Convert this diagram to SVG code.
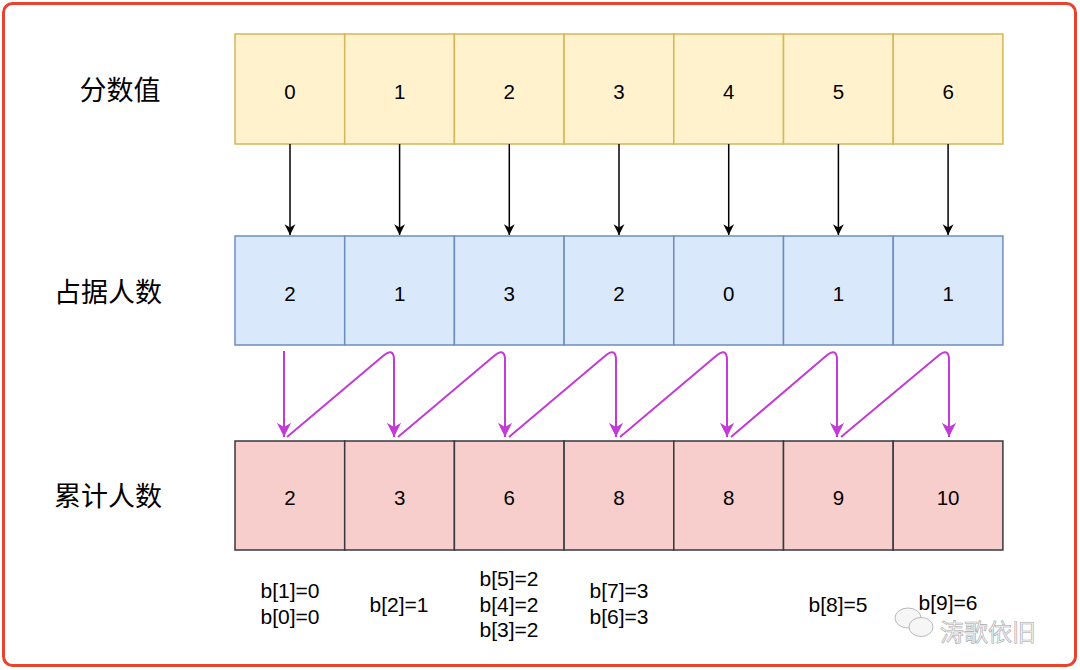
<svg xmlns="http://www.w3.org/2000/svg" width="1080" height="670" viewBox="0 0 1080 670">
<defs>
<style>
.num{font-family:"Liberation Sans",Arial,sans-serif;font-size:20.5px;fill:#000;text-anchor:middle;dominant-baseline:central}
.lbl{font-family:"Liberation Sans","Noto Sans CJK SC",sans-serif;font-size:27px;fill:#000;text-anchor:middle;dominant-baseline:central}
.bt{font-family:"Liberation Sans",Arial,sans-serif;font-size:21px;fill:#000;text-anchor:middle;dominant-baseline:central}
.y{fill:#fff2cc;stroke:#d6b656;stroke-width:1.5}
.b{fill:#dae8fc;stroke:#6c8ebf;stroke-width:1.5}
.r{fill:#f8cecc;stroke:#36393d;stroke-width:1.5}
.blk{fill:none;stroke:#000;stroke-width:1.5}
.pur{fill:none;stroke:#c23bd4;stroke-width:2}
</style>
<marker id="ah" markerWidth="13" markerHeight="13" refX="10" refY="5" orient="auto" markerUnits="userSpaceOnUse" viewBox="0 0 12 10">
<path d="M0,0 L10,5 L0,10 L3,5 Z" fill="#000"/>
</marker>
<marker id="ap" markerWidth="17" markerHeight="17" refX="10" refY="5" orient="auto" markerUnits="userSpaceOnUse" viewBox="0 0 12 10">
<path d="M0,0 L10,5 L0,10 L3,5 Z" fill="#c23bd4"/>
</marker>
</defs>
<rect x="3.5" y="3.5" width="1072" height="662" rx="9" fill="#fff" stroke="#e8432e" stroke-width="3"/>

<g id="labels">
<text class="lbl" x="120" y="91">分数值</text>
<text class="lbl" x="108" y="293">占据人数</text>
<text class="lbl" x="108" y="497">累计人数</text>
</g>

<g id="row-score">
<g id="s0"><rect class="y" x="235" y="34" width="109.7" height="110"/><text class="num" x="290" y="91">0</text></g>
<g id="s1"><rect class="y" x="344.7" y="34" width="109.7" height="110"/><text class="num" x="399.6" y="91">1</text></g>
<g id="s2"><rect class="y" x="454.4" y="34" width="109.7" height="110"/><text class="num" x="509.3" y="91">2</text></g>
<g id="s3"><rect class="y" x="564.1" y="34" width="109.7" height="110"/><text class="num" x="619" y="91">3</text></g>
<g id="s4"><rect class="y" x="673.8" y="34" width="109.7" height="110"/><text class="num" x="728.7" y="91">4</text></g>
<g id="s5"><rect class="y" x="783.5" y="34" width="109.7" height="110"/><text class="num" x="838.4" y="91">5</text></g>
<g id="s6"><rect class="y" x="893.2" y="34" width="109.7" height="110"/><text class="num" x="948.1" y="91">6</text></g>
</g>

<g id="row-count">
<g id="c0"><rect class="b" x="235" y="236" width="109.7" height="109"/><text class="num" x="290" y="293">2</text></g>
<g id="c1"><rect class="b" x="344.7" y="236" width="109.7" height="109"/><text class="num" x="399.6" y="293">1</text></g>
<g id="c2"><rect class="b" x="454.4" y="236" width="109.7" height="109"/><text class="num" x="509.3" y="293">3</text></g>
<g id="c3"><rect class="b" x="564.1" y="236" width="109.7" height="109"/><text class="num" x="619" y="293">2</text></g>
<g id="c4"><rect class="b" x="673.8" y="236" width="109.7" height="109"/><text class="num" x="728.7" y="293">0</text></g>
<g id="c5"><rect class="b" x="783.5" y="236" width="109.7" height="109"/><text class="num" x="838.4" y="293">1</text></g>
<g id="c6"><rect class="b" x="893.2" y="236" width="109.7" height="109"/><text class="num" x="948.1" y="293">1</text></g>
</g>

<g id="row-cum">
<g id="a0"><rect class="r" x="235" y="441" width="109.7" height="109"/><text class="num" x="290" y="497">2</text></g>
<g id="a1"><rect class="r" x="344.7" y="441" width="109.7" height="109"/><text class="num" x="399.6" y="497">3</text></g>
<g id="a2"><rect class="r" x="454.4" y="441" width="109.7" height="109"/><text class="num" x="509.3" y="497">6</text></g>
<g id="a3"><rect class="r" x="564.1" y="441" width="109.7" height="109"/><text class="num" x="619" y="497">8</text></g>
<g id="a4"><rect class="r" x="673.8" y="441" width="109.7" height="109"/><text class="num" x="728.7" y="497">8</text></g>
<g id="a5"><rect class="r" x="783.5" y="441" width="109.7" height="109"/><text class="num" x="838.4" y="497">9</text></g>
<g id="a6"><rect class="r" x="893.2" y="441" width="109.7" height="109"/><text class="num" x="948.1" y="497">10</text></g>
</g>

<g id="connectors">
<path class="blk" marker-end="url(#ah)" d="M290,144 V235"/>
<path class="blk" marker-end="url(#ah)" d="M399.6,144 V235"/>
<path class="blk" marker-end="url(#ah)" d="M509.3,144 V235"/>
<path class="blk" marker-end="url(#ah)" d="M619,144 V235"/>
<path class="blk" marker-end="url(#ah)" d="M728.7,144 V235"/>
<path class="blk" marker-end="url(#ah)" d="M838.4,144 V235"/>
<path class="blk" marker-end="url(#ah)" d="M948.1,144 V235"/>

<path class="pur" marker-end="url(#ap)" d="M284,351 V437"/>
<path class="pur" marker-end="url(#ap)" d="M287,437 L383,356 Q394,347 394,360 V437"/>
<path class="pur" marker-end="url(#ap)" d="M398,437 L494,356 Q505,347 505,360 V437"/>
<path class="pur" marker-end="url(#ap)" d="M509,437 L605,356 Q616,347 616,360 V437"/>
<path class="pur" marker-end="url(#ap)" d="M620,437 L716,356 Q727,347 727,360 V437"/>
<path class="pur" marker-end="url(#ap)" d="M731,437 L826,356 Q837,347 837,360 V437"/>
<path class="pur" marker-end="url(#ap)" d="M841,437 L938,356 Q949,347 949,360 V437"/>
</g>

<g id="notes">
<text class="bt" x="290" y="590">b[1]=0</text>
<text class="bt" x="290" y="616">b[0]=0</text>
<text class="bt" x="399" y="604">b[2]=1</text>
<text class="bt" x="509" y="578">b[5]=2</text>
<text class="bt" x="509" y="604">b[4]=2</text>
<text class="bt" x="509" y="629">b[3]=2</text>
<text class="bt" x="619" y="590">b[7]=3</text>
<text class="bt" x="619" y="616">b[6]=3</text>
<text class="bt" x="838" y="604">b[8]=5</text>
<text class="bt" x="948" y="602">b[9]=6</text>
</g>

<g id="watermark" fill="#f6f6f6" stroke="#a8a8a8" stroke-width="0.8">
<ellipse cx="908" cy="618" rx="13" ry="10"/>
<ellipse cx="921" cy="627" rx="12" ry="9.5"/>
<text x="940" y="630" font-family="'Noto Sans CJK SC',sans-serif" font-size="24" stroke-width="0.6" dominant-baseline="central">涛歌依旧</text>
</g>
</svg>
